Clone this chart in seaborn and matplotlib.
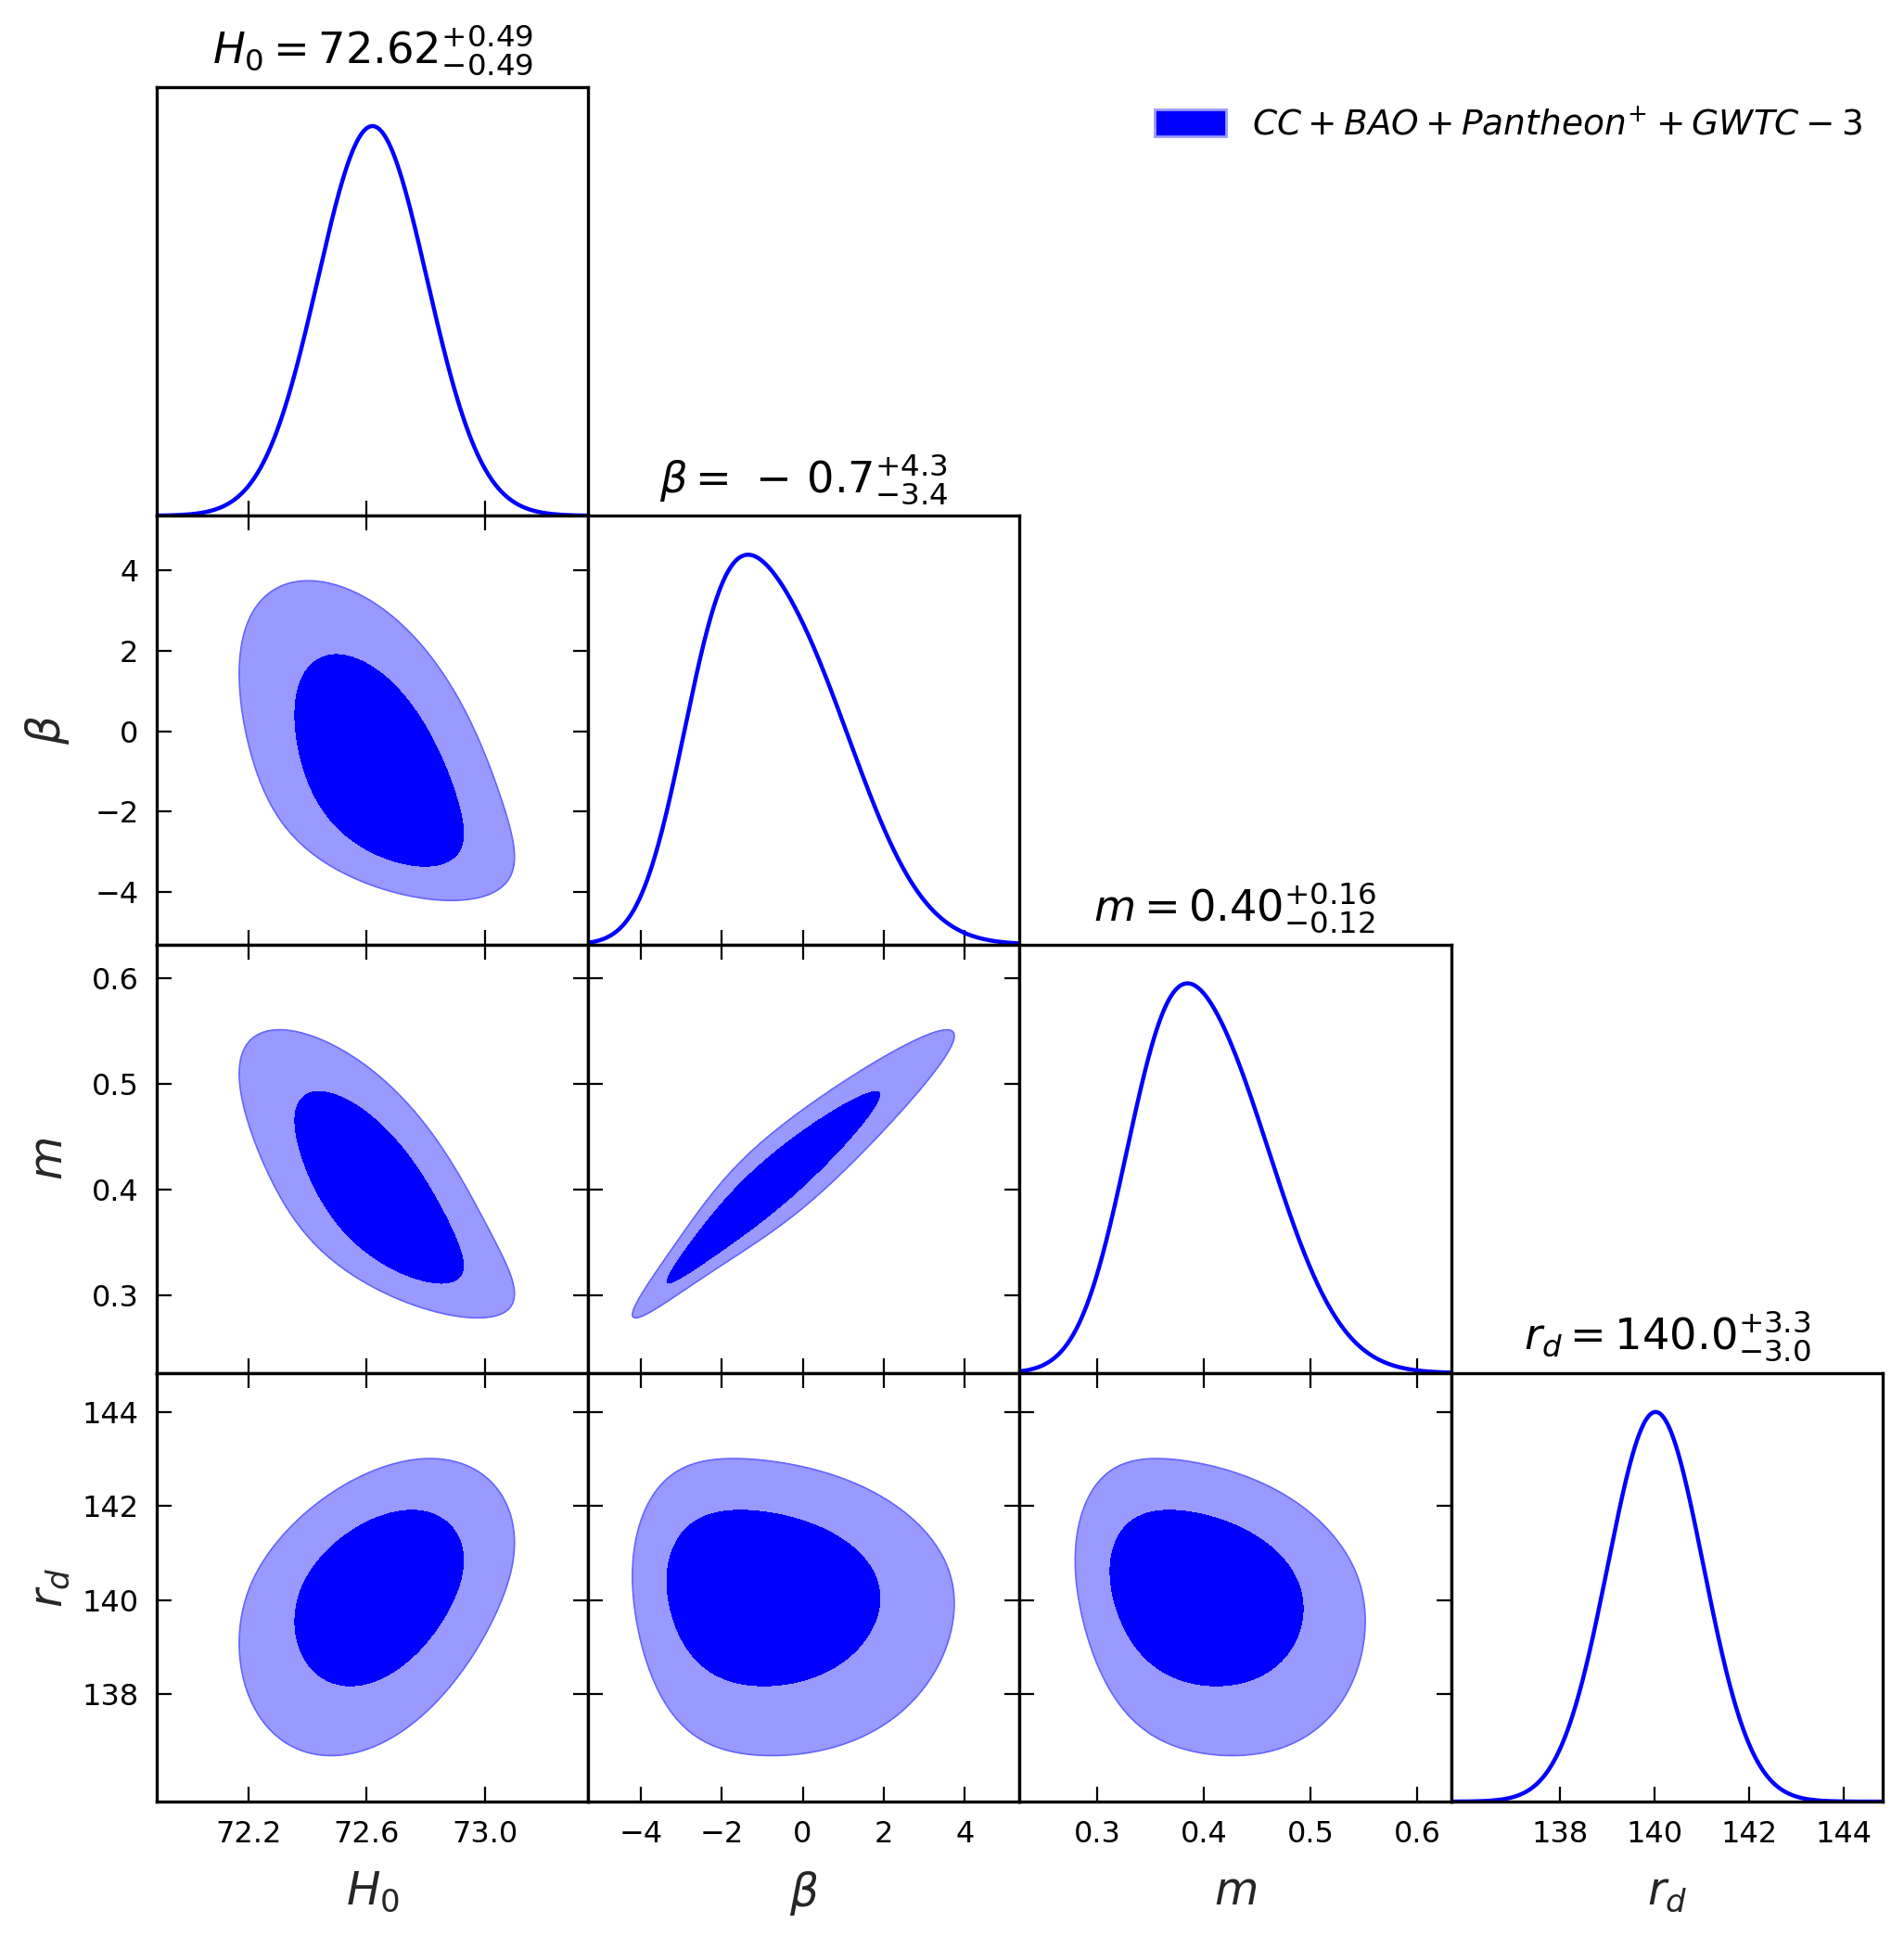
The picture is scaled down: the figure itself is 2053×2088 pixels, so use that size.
import numpy as np
import pandas as pd
import matplotlib
matplotlib.use("Agg")
import matplotlib.pyplot as plt
import seaborn as sns
from matplotlib.patches import Patch

# parameters of the triangle plot, in plotting order
param_names = ["H0", "beta", "m", "rd"]
param_labels = [r"$H_0$", r"$\beta$", r"$m$", r"$r_d$"]
param_titles = [r"$H_0 = 72.62^{+0.49}_{-0.49}$",
                r"$\beta = \,-\, 0.7^{+4.3}_{-3.4}$",
                r"$m = 0.40^{+0.16}_{-0.12}$",
                r"$r_d = 140.0^{+3.3}_{-3.0}$"]

# shape of the 1D marginals: centre, width, skew, tail weight
curve_center = [72.62, -1.40, 0.384, 140.03]
curve_width = [0.185, 2.10, 0.0675, 1.01]
curve_skew = [0.0, 0.30, 0.20, 0.0]
curve_tail = [1.0, 1.20, 1.10, 1.0]

# shape of the 2D contours: centre, width, skew, tail weight
contour_center = [72.66, -2.50, 0.3533, 140.40]
contour_width = [0.19, 2.30, 0.0875, 1.05]
contour_skew = [-0.05, 0.70, 0.55, -0.15]
contour_tail = [1.0, 1.35, 1.40, 0.90]

# correlation between the parameters (same order)
corr_matrix = [[1.00, -0.52, -0.72, 0.36],
               [-0.52, 1.00, 0.96, -0.10],
               [-0.72, 0.96, 1.00, -0.22],
               [0.36, -0.10, -0.22, 1.00]]

# 68% and 95% regions (delta chi^2 for two parameters)
contour_levels = [2.30, 5.99]

axis_limits = [(71.89, 73.35), (-5.30, 5.36), (0.227, 0.632), (135.71, 144.83)]
axis_ticks = [[72.2, 72.6, 73.0], [-4, -2, 0, 2, 4], [0.3, 0.4, 0.5, 0.6], [138, 140, 142, 144]]
tick_labels = [["72.2", "72.6", "73.0"], ["\u22124", "\u22122", "0", "2", "4"],
               ["0.3", "0.4", "0.5", "0.6"], ["138", "140", "142", "144"]]

legend_label = r"$CC+BAO+Pantheon^{+}+GWTC-3$"
inner_color = "#0000ff"
outer_color = "#9999ff"
line_color = "#0000ff"


def to_gauss( x, c, s, eps, delta ) :
    """sinh-arcsinh map of a parameter onto a standard normal variable, plus dz/dx"""
    y = (x - c) / s
    a = delta * np.arcsinh( y ) - eps
    return np.sinh( a ), delta * np.cosh( a ) / (s * np.sqrt( 1 + y * y ))


def density_1d( k, n = 800 ) :
    lo, hi = axis_limits[k]
    x = np.linspace( lo, hi, n )
    z, dz = to_gauss( x, curve_center[k], curve_width[k], curve_skew[k], curve_tail[k] )
    p = np.exp( -0.5 * z ** 2 ) * dz
    return pd.DataFrame( { 'x' : x, 'p' : p / p.max() } )


def chi2_2d( kx, ky, n = 500 ) :
    gx = np.linspace( *axis_limits[kx], n )
    gy = np.linspace( *axis_limits[ky], n )
    X, Y = np.meshgrid( gx, gy )
    zx, _ = to_gauss( X, contour_center[kx], contour_width[kx], contour_skew[kx], contour_tail[kx] )
    zy, _ = to_gauss( Y, contour_center[ky], contour_width[ky], contour_skew[ky], contour_tail[ky] )
    rho = corr_matrix[ky][kx]
    Q = (zx ** 2 - 2 * rho * zx * zy + zy ** 2) / (1 - rho ** 2)
    return X, Y, Q


sns.set_style( "white", { "axes.edgecolor" : "black", "xtick.direction" : "in", "ytick.direction" : "in" } )
plt.rcParams['font.family'] = ['DejaVu Sans']
plt.rcParams['mathtext.fontset'] = 'dejavusans'
plt.rcParams['text.color'] = 'black'
plt.rcParams['xtick.color'] = 'black'
plt.rcParams['ytick.color'] = 'black'

fig, axes = plt.subplots( 4, 4, figsize = (2053 / 200, 2088 / 200), dpi = 200,
                          gridspec_kw = dict( wspace = 0, hspace = 0, left = 0.0823, right = 0.9888,
                                              top = 0.955, bottom = 0.0694 ) )

tick_style = dict( direction = 'in', length = 5.8, width = 0.8, labelsize = 11.5, pad = 7 )
n_par = len( param_names )

for row in range( n_par ) :
    for col in range( n_par ) :
        ax = axes[row, col]
        if col > row :
            ax.set_visible( False )
            continue

        if col == row :
            df = density_1d( col )
            sns.lineplot( data = df, x = 'x', y = 'p', ax = ax, color = line_color, lw = 1.6 )
            ax.set_ylim( 0, 1.1 )
            ax.set_yticks( [] )
            ax.tick_params( axis = 'x', bottom = True, top = False, **tick_style )
            ax.set_title( param_titles[col], fontsize = 16.7, pad = 9 )
        else :
            X, Y, Q = chi2_2d( col, row )
            ax.contourf( X, Y, Q, levels = [0] + contour_levels, colors = [inner_color, outer_color] )
            ax.contour( X, Y, Q, levels = contour_levels[1:], colors = ['#6666ff'], linewidths = 0.6 )
            ax.set_ylim( axis_limits[row] )
            ax.set_yticks( axis_ticks[row] )
            if col == 0 :
                ax.set_yticklabels( tick_labels[row] )
                ax.set_ylabel( param_labels[row], fontsize = 17.5, labelpad = 4 )
            else :
                ax.set_yticklabels( [] )
                ax.set_ylabel( '' )
            ax.tick_params( axis = 'both', bottom = True, top = True, left = True, right = True, **tick_style )

        ax.set_xlim( axis_limits[col] )
        ax.set_xticks( axis_ticks[col] )
        if row == n_par - 1 :
            ax.set_xticklabels( tick_labels[col] )
            ax.set_xlabel( param_labels[col], fontsize = 17.5, labelpad = 8 )
        else :
            ax.set_xticklabels( [] )
            ax.set_xlabel( '' )
        if col == row :
            ax.set_ylabel( '' )
        for spine in ax.spines.values() :
            spine.set_linewidth( 1.2 )
            spine.set_color( 'black' )

fig.align_ylabels( axes[:, 0] )

handle = Patch( facecolor = inner_color, edgecolor = '#9999ff', linewidth = 1.0 )
fig.legend( handles = [handle], labels = [legend_label], loc = 'center right',
            bbox_to_anchor = (0.978, 0.935), frameon = False, fontsize = 13.5,
            borderpad = 0, borderaxespad = 0, handlelength = 2.05, handleheight = 0.83,
            handletextpad = 0.75 )

fig.savefig( 'out.png', dpi = 200 )
